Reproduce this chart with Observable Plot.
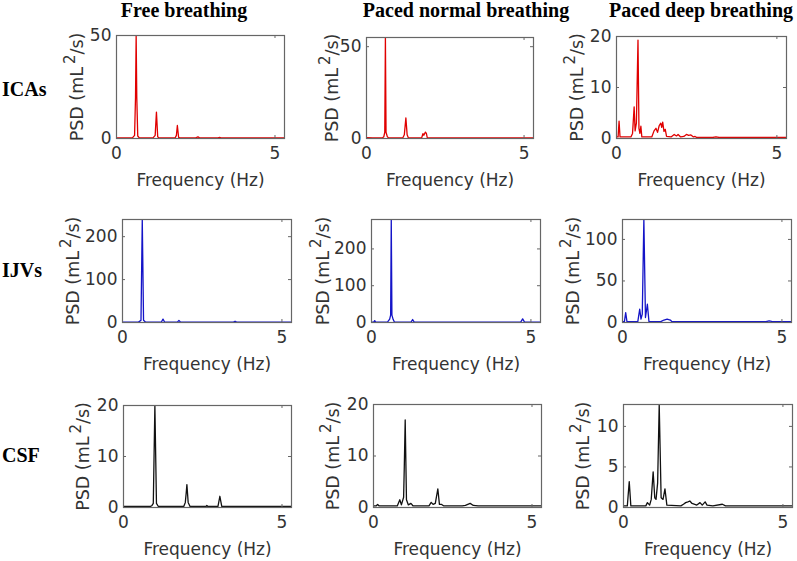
<!DOCTYPE html>
<html><head><meta charset="utf-8">
<script src="https://cdn.jsdelivr.net/npm/d3@7"></script>
<script src="https://cdn.jsdelivr.net/npm/@observablehq/plot@0.6"></script>
<style>
body{margin:0;background:#fff;}
#chart{position:relative;width:797px;height:561px;overflow:hidden;background:#fff;}
.ttl{position:absolute;font-family:"Liberation Serif","Times New Roman",serif;font-weight:bold;font-size:20px;color:#000;white-space:nowrap;line-height:22px;}
.panel{position:absolute;}
.panel svg{overflow:visible;max-width:none !important;}
</style></head><body><div id="chart"></div>
<script>
// ---- text ----
const columnTitles = ["Free breathing", "Paced normal breathing", "Paced deep breathing"];
const rowLabels = ["ICAs", "IJVs", "CSF"];
const xLabel = "Frequency (Hz)";
const yLabelParts = ["PSD (mL", "2", "/s)"];
const xTicks = [0, 5];
const xMax = 5.3;

// ---- data: [frequency Hz, PSD mL^2/s] ----
const icaFree = [[0,0.3],[0.5,0.3],[0.57,1.5],[0.6,20],[0.62,50],[0.64,20],[0.67,1.2],[0.72,0.3],[1.15,0.3],[1.22,1.5],[1.26,12.8],[1.3,0.8],[1.34,0.3],[1.85,0.3],[1.89,1.5],[1.92,6.3],[1.96,0.5],[2.0,0.3],[2.5,0.3],[2.57,0.8],[2.62,0.3],[3.2,0.3],[3.25,0.5],[3.3,0.3],[5.3,0.3]];
const icaNormal = [[0,0.5],[0.2,0.3],[0.5,0.3],[0.55,1],[0.58,3.4],[0.6,55],[0.62,3.4],[0.66,1],[0.7,0.3],[1.15,0.3],[1.2,2],[1.25,11.2],[1.29,2],[1.33,0.3],[1.75,0.3],[1.79,2.6],[1.82,1.8],[1.87,3.5],[1.9,2.8],[1.93,0.4],[2.5,0.3],[5.3,0.3]];
const icaDeep = [[0,0.3],[0.05,0.3],[0.08,3.4],[0.11,0.3],[0.45,0.3],[0.5,1],[0.55,6.2],[0.58,1.5],[0.62,3],[0.67,19.3],[0.7,2],[0.73,1],[0.76,2.4],[0.79,0.3],[1.1,0.3],[1.17,1.5],[1.23,2.0],[1.28,1.2],[1.33,2.5],[1.38,3.0],[1.41,2.2],[1.44,3.2],[1.48,1.4],[1.52,1.8],[1.56,0.4],[1.7,0.3],[1.8,0.8],[1.87,0.5],[1.92,0.8],[2.0,0.3],[2.1,0.4],[2.18,0.8],[2.25,0.6],[2.32,0.7],[2.4,0.3],[2.45,0.4],[2.5,0.2],[3.0,0.2],[3.1,0.3],[3.2,0.2],[5.3,0.2]];
const ijvFree = [[0,1],[0.5,1],[0.58,5],[0.62,240],[0.66,5],[0.72,1],[1.22,1],[1.27,8],[1.32,1],[1.72,1],[1.77,5],[1.82,1],[3.48,1],[3.53,3],[3.58,1],[5.3,1]];
const ijvNormal = [[0,1],[0.07,1],[0.1,5],[0.13,1],[0.5,1],[0.57,9],[0.6,20],[0.62,280],[0.64,20],[0.68,8],[0.72,1],[1.24,1],[1.29,8],[1.34,1],[4.68,1],[4.74,10],[4.8,1],[5.3,1]];
const ijvDeep = [[0,1],[0.06,1],[0.1,12],[0.14,1],[0.48,1],[0.54,16],[0.58,4],[0.62,10],[0.67,124],[0.72,6],[0.78,22],[0.83,1],[1.2,1],[1.3,3],[1.4,4],[1.5,3],[1.55,1],[4.5,1],[4.6,2],[4.7,1],[5.3,1]];
const csfFree = [[0,0.2],[0.85,0.2],[0.9,0.4],[0.94,0.8],[0.99,20],[1.04,0.8],[1.1,0.2],[1.9,0.2],[1.95,1],[1.98,3],[2.0,4.5],[2.04,1],[2.1,0.2],[2.6,0.2],[2.63,0.4],[2.66,0.2],[2.98,0.2],[3.04,2.2],[3.1,0.2],[5.3,0.2]];
const csfNormal = [[0,0.3],[0.08,0.3],[0.13,0.6],[0.18,0.3],[0.75,0.3],[0.83,1.5],[0.88,0.5],[0.95,2],[0.97,7.5],[1.0,17],[1.04,1.5],[1.1,0.5],[1.18,0.8],[1.25,0.3],[1.75,0.3],[1.82,1.0],[1.88,0.6],[1.95,0.8],[2.03,3.6],[2.08,0.6],[2.15,0.6],[2.22,0.3],[2.8,0.3],[2.9,0.4],[3.05,0.8],[3.15,0.4],[3.3,0.3],[5.3,0.3]];
const csfDeep = [[0,0.2],[0.12,0.2],[0.18,3.2],[0.23,0.2],[0.7,0.2],[0.75,0.6],[0.82,0.3],[0.87,1],[0.93,4.4],[0.98,1.2],[1.02,1.0],[1.07,3],[1.12,12.7],[1.18,1.2],[1.24,1],[1.3,2.3],[1.36,0.3],[1.8,0.2],[1.88,0.4],[1.95,0.6],[2.02,0.7],[2.08,0.8],[2.15,0.5],[2.3,0.3],[2.4,0.6],[2.47,0.3],[2.56,0.7],[2.62,0.3],[2.8,0.2],[3.1,0.4],[3.2,0.2],[5.3,0.2]];

const series = [[icaFree, icaNormal, icaDeep], [ijvFree, ijvNormal, ijvDeep], [csfFree, csfNormal, csfDeep]];
const yTicks = [[[0,50],[0,50],[0,10,20]], [[0,100,200],[0,100,200],[0,50,100]], [[0,10,20],[0,10,20],[0,5,10]]];
const yMax = [[50,55,20],[240,280,124],[20,20,12.7]];

// ---- layout & style ----
const rowColors = ["#e00000", "#1414c8", "#111111"];
const frames = [
  [{l:116,t:35,w:168,h:103},{l:366,t:37,w:167,h:101},{l:616,t:36,w:170,h:102}],
  [{l:122,t:219,w:169,h:103},{l:371,t:219,w:169,h:103},{l:622,t:219,w:169,h:103}],
  [{l:123,t:405,w:168,h:102},{l:373,t:404,w:168,h:103},{l:623,t:404,w:169,h:103}]
];
const yLabelOffset = [[34,29,34],[44,43,44],[35,35,35]];
const titleX = [184, 466, 701];
const rowLabelY = [90, 271, 456];
const ML = 80, MR = 12, MT = 8, MB = 60;
const FONT = "DejaVu Sans";
const TXT = "#333";
const AX = "#666";

const chart = document.getElementById("chart");

columnTitles.forEach((t, i) => {
  const d = document.createElement("div");
  d.className = "ttl"; d.textContent = t;
  d.style.left = titleX[i] + "px"; d.style.top = "-1px"; d.style.transform = "translateX(-50%)";
  chart.appendChild(d);
});
rowLabels.forEach((t, i) => {
  const d = document.createElement("div");
  d.className = "ttl"; d.textContent = t;
  d.style.left = "2px"; d.style.top = (rowLabelY[i] - 12) + "px";
  chart.appendChild(d);
});

const ylabelText = yLabelParts.join("");
for (let r = 0; r < 3; r++) {
  for (let c = 0; c < 3; c++) {
    const f = frames[r][c];
    const data = series[r][c];
    const W = f.w + ML + MR, H = f.h + MT + MB;
    const svg = Plot.plot({
      width: W, height: H,
      marginLeft: ML, marginRight: MR, marginTop: MT, marginBottom: MB,
      style: {background: "transparent", fontFamily: FONT, fontSize: "17px", color: TXT, overflow: "visible"},
      x: {domain: [0, xMax]},
      y: {domain: [0, yMax[r][c]]},
      marks: [
        Plot.line(data, {x: d => d[0], y: d => d[1], stroke: rowColors[r], strokeWidth: 1.3, clip: true}),
        Plot.ruleX(xTicks, {x: d => d, insetTop: f.h - 3, stroke: AX}),
        Plot.ruleX(xTicks, {x: d => d, insetBottom: f.h - 3, stroke: AX}),
        Plot.ruleY(yTicks[r][c], {y: d => d, insetRight: f.w - 3, stroke: AX}),
        Plot.ruleY(yTicks[r][c], {y: d => d, insetLeft: f.w - 3, stroke: AX}),
        Plot.frame({stroke: AX, strokeWidth: 1.2}),
        Plot.axisX(xTicks, {tickSize: 0, tickPadding: 8, label: null, fill: TXT, fontSize: 17}),
        Plot.axisY(yTicks[r][c], {tickSize: 0, tickPadding: 5, label: null, fill: TXT, fontSize: 17}),
        Plot.text([xLabel], {text: d => d, frameAnchor: "bottom", dy: 47, lineAnchor: "bottom", fill: TXT, fontSize: 17}),
        Plot.text([ylabelText], {text: d => d, frameAnchor: "left", textAnchor: "middle", rotate: -90, dx: -yLabelOffset[r][c], lineAnchor: "bottom", fill: TXT, fontSize: 17.5})
      ]
    });
    // superscript for the unit
    svg.querySelectorAll("text").forEach(t => {
      if (t.textContent !== ylabelText) return;
      const ns = "http://www.w3.org/2000/svg";
      while (t.firstChild) t.removeChild(t.firstChild);
      const a = document.createElementNS(ns, "tspan"); a.textContent = yLabelParts[0];
      const b = document.createElementNS(ns, "tspan"); b.textContent = yLabelParts[1];
      b.setAttribute("dy", "-8"); b.setAttribute("dx", "3"); b.setAttribute("font-size", "15");
      const e = document.createElementNS(ns, "tspan"); e.textContent = yLabelParts[2];
      e.setAttribute("dy", "8");
      t.append(a, b, e);
    });
    const div = document.createElement("div");
    div.className = "panel";
    div.style.left = (f.l - ML) + "px";
    div.style.top = (f.t - MT) + "px";
    div.style.width = W + "px";
    div.style.height = H + "px";
    div.appendChild(svg);
    chart.appendChild(div);
  }
}
</script></body></html>
